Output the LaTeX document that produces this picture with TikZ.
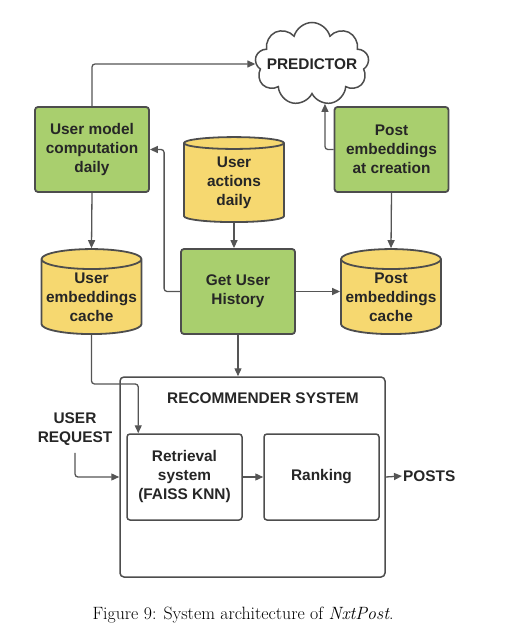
\documentclass[tikz,border=0pt]{standalone}
\usepackage{fontspec}
\setsansfont{Liberation Sans}
\usepackage{xcolor}
\usetikzlibrary{positioning, calc, arrows.meta, shapes.geometric, shapes.symbols}

\definecolor{boxgreen}{RGB}{169,207,110}
\definecolor{dbyellow}{RGB}{246,216,112}
\definecolor{edgegray}{RGB}{77,77,77}
\definecolor{linegray}{RGB}{85,85,85}

\begin{document}
\begin{tikzpicture}[x=1pt, y=-1pt,
    every node/.style={font=\sffamily\bfseries\fontsize{15.4}{19}\selectfont, text=black!85, align=center},
    process/.style={draw=edgegray, line width=1.8pt, fill=boxgreen, rounded corners=3pt,
                    minimum width=114pt, minimum height=85pt, inner sep=0pt},
    store/.style={cylinder, shape border rotate=90, aspect=0.22, draw=edgegray, line width=1.8pt,
                  fill=dbyellow, minimum width=100pt, minimum height=85pt, inner sep=0pt},
    stage/.style={draw=edgegray, line width=1.5pt, fill=white, rounded corners=3pt,
                  minimum width=115pt, minimum height=86pt, inner sep=0pt},
    arr/.style={draw=linegray, line width=1.3pt, rounded corners=3pt,
                -{Triangle[length=8pt, width=7pt]}}]
    \useasboundingbox (0,0) rectangle (508,639);

    \node[cloud, cloud puffs=9, aspect=1.4, draw=edgegray, line width=1.5pt, fill=white,
          minimum width=114pt, minimum height=83pt, inner sep=0pt,
          label={center:PREDICTOR}] (pred) at (312,64) {};

    \node[process] (umc) at (92,149.5) {User model\\computation\\daily};
    \node[process] (pec) at (391.5,149.5) {Post\\embeddings\\at creation};
    \node[store] (uad) at (234,183) {User\\actions\\daily};

    \node[store] (uec) at (91.5,297) {User\\embeddings\\cache};
    \node[process] (guh) at (238,291.5) {Get User\\History};
    \node[store] (pcache) at (391,297) {Post\\embeddings\\cache};

    \node[draw=edgegray, line width=1.5pt, rounded corners=4pt,
          minimum width=265pt, minimum height=200pt] (rec) at (252.5,477) {};
    \node (rectitle) at (263,398) {RECOMMENDER SYSTEM};
    \node[stage] (ret) at (184.5,477) {Retrieval\\system\\(FAISS KNN)};
    \node[stage] (rank) at (321.5,477) {Ranking};

    \node (ureq) at (75,429) {USER\\REQUEST};
    \node[anchor=west, inner sep=1pt] (posts) at (402,476) {POSTS};

    \node[font=\rmfamily\fontsize{17.8}{20}\selectfont, text=black] (cap) at (243,615)
        {Figure 9: System architecture of \textit{NxtPost}.};

    % connectors
    \draw[arr] (umc.north) |- (pred.west);
    \draw[arr] (pec.west) -| (pred.-72);
    \draw[arr] (guh.west) -- ++(-16,0) |- (umc.east);
    \draw[arr] (guh.east) -- (guh.east -| pcache.west);
    \draw[arr] (uad.south) -- (uad.south |- guh.north);
    \draw[arr] (umc.south) -- (uec.north);
    \draw[arr] (pec.south) -- (pcache.north);
    \draw[arr] (guh.south) -- (guh.south |- rec.north);
    \draw[arr] (uec.south) -- ++(0,49) -| ([xshift=12pt]ret.north west);
    \draw[arr] ([yshift=-4pt]ureq.south) |- (rec.west);
    \draw[arr] (ret.east) -- (rank.west);
    \draw[arr] (rec.east) -- (posts.west);
\end{tikzpicture}
\end{document}
